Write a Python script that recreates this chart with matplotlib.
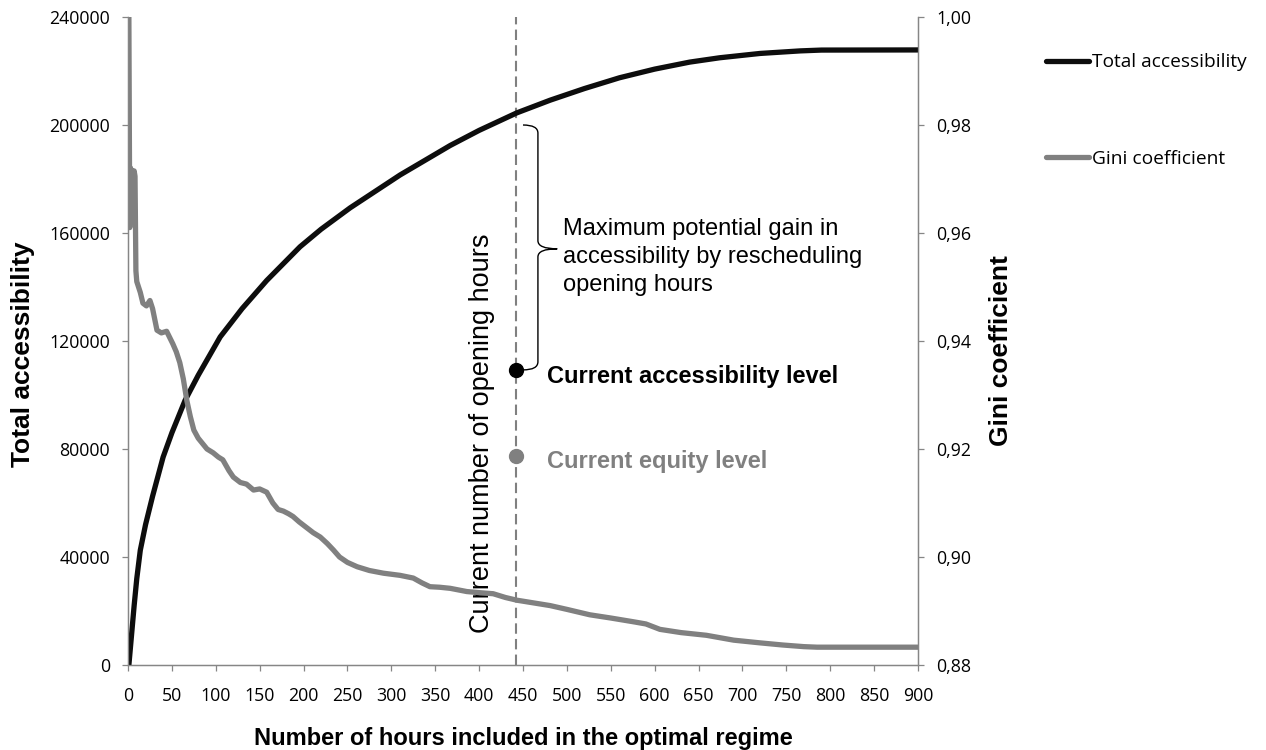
import numpy as np
import matplotlib.pyplot as plt
from matplotlib.path import Path
from matplotlib.patches import PathPatch
from matplotlib.ticker import FuncFormatter, MultipleLocator

# total accessibility vs hours
acc_hours = [1, 4, 7, 10, 14, 20, 28, 40, 50, 65, 80, 105, 130, 158, 196, 220, 253,
             310, 367, 400, 443, 481, 520, 560, 600, 640, 674, 720, 766, 790, 900]
acc_values = [0, 11000, 22000, 32000, 42500, 52000, 62500, 77000, 86000, 98000, 107300,
              121500, 132000, 142400, 154900, 161400, 169300, 181500, 192400, 198000,
              204500, 209200, 213500, 217500, 220700, 223300, 224900, 226500, 227450,
              227750, 227800]

# gini coefficient vs hours
gini_hours = [1, 2, 3, 4, 5, 6, 7, 8, 9, 10, 12, 14, 17, 21, 25, 28, 33, 38, 44, 51, 55,
              59, 63, 67, 71, 75, 80, 90, 97, 103, 108, 115, 120, 128, 135, 143, 150, 158,
              165, 171, 177, 183, 188, 195, 203, 211, 219, 227, 234, 241, 250, 261, 275,
              291, 310, 325, 335, 344, 355, 367, 386, 400, 416, 430, 443, 462, 481, 500,
              526, 550, 576, 590, 606, 630, 659, 690, 720, 746, 770, 785, 900]
gini_values = [1.000, 0.961, 0.972, 0.962, 0.9715, 0.963, 0.9715, 0.9705, 0.953, 0.951,
               0.950, 0.949, 0.947, 0.9465, 0.9475, 0.946, 0.942, 0.9415, 0.9418, 0.9395,
               0.938, 0.936, 0.933, 0.929, 0.926, 0.9235, 0.922, 0.920, 0.9193, 0.9185,
               0.918, 0.916, 0.9148, 0.9138, 0.9135, 0.9124, 0.9126, 0.912, 0.910, 0.9088,
               0.9085, 0.908, 0.9075, 0.9065, 0.9055, 0.9045, 0.9037, 0.9025, 0.9013, 0.900,
               0.899, 0.8982, 0.8975, 0.897, 0.8966, 0.8961, 0.8952, 0.8945, 0.8944, 0.8942,
               0.8936, 0.8934, 0.8932, 0.8925, 0.892, 0.8915, 0.891, 0.8903, 0.8893, 0.8887,
               0.888, 0.8876, 0.8866, 0.886, 0.8855, 0.8846, 0.8841, 0.8837, 0.8834, 0.8833,
               0.8833]

current_hours = 442
current_access = 109300
current_gini = 0.9187
brace_top = 200000

grey = '#808080'
axis_grey = '#868686'
label_font = 'Liberation Sans'
plt.rcParams['font.family'] = ['Open Sans', 'DejaVu Sans']

fig = plt.figure(figsize=(12.66, 7.5), dpi=100)
ax = fig.add_axes([128 / 1266, 85 / 750, 790 / 1266, 648 / 750])
ax2 = ax.twinx()

ax.plot(acc_hours, acc_values, color='#0d0d0d', lw=3.8, solid_capstyle='round',
        solid_joinstyle='round', label='Total accessibility', zorder=3)
ax2.plot(gini_hours, gini_values, color=grey, lw=3.8, solid_capstyle='round',
         solid_joinstyle='round', label='Gini coefficient', zorder=2)

ax.set_xlim(0, 900)
ax.set_ylim(0, 240000)
ax2.set_ylim(0.88, 1.00)
ax.xaxis.set_major_locator(MultipleLocator(50))
ax.yaxis.set_major_locator(MultipleLocator(40000))
ax2.yaxis.set_major_locator(MultipleLocator(0.02))
ax2.yaxis.set_major_formatter(FuncFormatter(lambda v, p: f'{v:.2f}'.replace('.', ',')))

for a in (ax, ax2):
    for s in a.spines.values():
        s.set_color(axis_grey)
        s.set_linewidth(0.9)
    a.spines['top'].set_visible(False)
    a.tick_params(colors=axis_grey, length=4, width=0.9, labelcolor='black',
                  labelsize=12.8, pad=9)
ax.tick_params(axis='x', pad=12)

# vertical dashed line and current levels
ax.axvline(current_hours, color=grey, lw=1.5, dashes=(5, 2.5), zorder=1)
ax.plot([current_hours], [current_access], 'o', color='black', ms=10, zorder=5)
ax2.plot([current_hours], [current_gini], 'o', color=grey, ms=10, zorder=5)

ax.annotate('Current accessibility level', xy=(current_hours, current_access),
            xytext=(22, -5), textcoords='offset points', fontfamily=label_font,
            fontweight='bold', fontsize=17, va='center', ha='left')
ax2.annotate('Current equity level', xy=(current_hours, current_gini),
             xytext=(22, -4), textcoords='offset points', color=grey,
             fontfamily=label_font, fontweight='bold', fontsize=17, va='center', ha='left')
ax.text(current_hours - 39, 86000, 'Current number of opening hours', rotation=90,
        fontfamily=label_font, fontsize=19.5, ha='center', va='center')

# brace between current level and optimum
mid = (brace_top + current_access) / 2 - 500
bx = current_hours + 25
tip = current_hours + 47
verts = [(current_hours + 8, brace_top), (bx, brace_top), (bx, brace_top - 3000),
         (bx, mid + 3000), (bx, mid), (tip, mid),
         (bx, mid), (bx, mid - 3000),
         (bx, current_access + 3000), (bx, current_access), (current_hours + 8, current_access)]
codes = [Path.MOVETO, Path.CURVE3, Path.CURVE3, Path.LINETO, Path.CURVE3, Path.CURVE3,
         Path.CURVE3, Path.CURVE3, Path.LINETO, Path.CURVE3, Path.CURVE3]
ax.add_patch(PathPatch(Path(verts, codes), fc='none', ec='black', lw=1.0, zorder=4))
ax.text(tip + 7, mid + 11500,
        'Maximum potential gain in\naccessibility by rescheduling\nopening hours',
        fontfamily=label_font, fontsize=17, va='top', ha='left', linespacing=1.36)

ax.set_xlabel('Number of hours included in the optimal regime', fontfamily=label_font,
              fontweight='bold', fontsize=17)
ax.set_ylabel('Total accessibility', fontfamily=label_font, fontweight='bold', fontsize=19)
ax2.set_ylabel('Gini coefficient', fontfamily=label_font, fontweight='bold', fontsize=19)
ax.xaxis.set_label_coords(0.5, -0.095)
ax.yaxis.set_label_coords(-0.118, 0.48)
ax2.yaxis.set_label_coords(1.09, 0.485)

handles = ax.get_lines()[:1] + ax2.get_lines()[:1]
fig.legend(handles, [h.get_label() for h in handles], loc='upper left',
           bbox_to_anchor=(1029 / 1266, 1 - 36 / 750), frameon=False,
           prop={'size': 13.8}, handlelength=2.25,
           handletextpad=0.15, labelspacing=4.1)

fig.savefig('out.png', dpi=100)
